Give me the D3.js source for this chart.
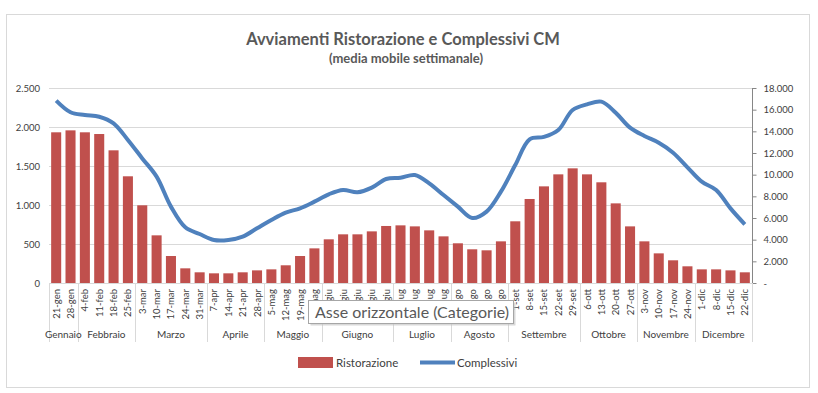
<!DOCTYPE html>
<html>
<head>
<meta charset="utf-8">
<script src="https://cdn.jsdelivr.net/npm/d3@7"></script>
<style>
  body { margin: 0; background: #fff; }
  text { font-family: Lato, "Open Sans", sans-serif; }
</style>
</head>
<body>
<div class="chart"></div>
<script>
// weekly categories and month groups
const weeks = ["21-gen","28-gen","4-feb","11-feb","18-feb","25-feb","3-mar","10-mar","17-mar","24-mar","31-mar",
  "7-apr","14-apr","21-apr","28-apr","5-mag","12-mag","19-mag","26-mag","2-giu","9-giu","16-giu","23-giu","30-giu",
  "7-lug","14-lug","21-lug","28-lug","4-ago","11-ago","18-ago","25-ago","1-set","8-set","15-set","22-set","29-set",
  "6-ott","13-ott","20-ott","27-ott","3-nov","10-nov","17-nov","24-nov","1-dic","8-dic","15-dic","22-dic"];

const months = ["Gennaio","Febbraio","Marzo","Aprile","Maggio","Giugno","Luglio","Agosto","Settembre","Ottobre","Novembre","Dicembre"];
const monthWeeks = [2,4,5,4,4,5,4,4,5,4,4,4];

const ristorazione = [1932,1957,1932,1910,1701,1368,996,611,346,188,137,124,124,137,162,175,227,346,444,560,624,624,662,731,
  739,726,675,598,509,432,419,534,791,1077,1239,1393,1470,1393,1291,1021,726,534,380,291,214,175,175,162,137];

const complessivi = [16830,15760,15510,15350,14740,13200,11500,9820,7050,5140,4520,3970,3970,4280,5050,5820,6490,6890,7510,8190,8590,8370,8800,9600,
  9720,9970,9200,8120,7050,6000,6590,8430,10890,13260,13480,14120,15970,16490,16740,15720,14340,13570,12950,12030,10680,9350,8590,6890,5420];

const leftTicks = [0,500,1000,1500,2000,2500];
const rightTicks = [0,2000,4000,6000,8000,10000,12000,14000,16000,18000];

const W = 818, H = 393;
const plot = {left: 49, right: 752, top: 88, bottom: 283};

const fmt = v => v === 0 ? "0" : d3.format(",")(v).replace(/,/g, ".");
const fmtR = v => v === 0 ? "-" : d3.format(",")(v).replace(/,/g, ".");

const svg = d3.select(".chart").append("svg")
  .attr("width", W)
  .attr("height", H);

// outer frame
svg.append("rect")
  .attr("x", 6.5).attr("y", 14.5)
  .attr("width", 803).attr("height", 373)
  .attr("fill", "#fff").attr("stroke", "#d9d9d9");

// title
svg.append("text")
  .attr("x", 403).attr("y", 45)
  .attr("text-anchor", "middle")
  .attr("font-size", 16.5).attr("font-weight", "bold").attr("fill", "#595959")
  .text("Avviamenti Ristorazione e Complessivi CM");
svg.append("text")
  .attr("x", 406).attr("y", 63)
  .attr("text-anchor", "middle")
  .attr("font-size", 13).attr("font-weight", "bold").attr("fill", "#595959")
  .text("(media mobile settimanale)");

// scales
const x = d3.scaleBand()
  .domain(weeks)
  .range([plot.left, plot.right])
  .paddingInner(0.3)
  .paddingOuter(0.15);

const y = d3.scaleLinear()
  .domain([0, 2500])
  .range([plot.bottom, plot.top]);

const y2 = d3.scaleLinear()
  .domain([0, 18000])
  .range([plot.bottom, plot.top]);

// gridlines
svg.append("g")
  .selectAll("line")
  .data(leftTicks.slice(1))
  .join("line")
    .attr("x1", plot.left).attr("x2", plot.right)
    .attr("y1", d => Math.round(y(d)) + 0.5).attr("y2", d => Math.round(y(d)) + 0.5)
    .attr("stroke", "#d9d9d9");

// left axis (labels only)
const yAxis = d3.axisLeft(y).tickValues(leftTicks).tickFormat(fmt).tickSize(0).tickPadding(9);
const gy = svg.append("g")
  .attr("transform", "translate(" + plot.left + ",0)")
  .call(yAxis);
gy.select(".domain").remove();
gy.selectAll("text").attr("font-size", 9.5).attr("fill", "#404040");

// right axis
const yAxis2 = d3.axisRight(y2).tickValues(rightTicks).tickFormat(fmtR).tickSize(4).tickPadding(7);
const gy2 = svg.append("g")
  .attr("transform", "translate(" + (plot.right + 0.5) + ",0)")
  .call(yAxis2);
gy2.select(".domain").attr("stroke", "#868686").attr("d", "M0," + plot.top + "V" + plot.bottom);
gy2.selectAll("line").attr("stroke", "#868686");
gy2.selectAll("text").attr("font-size", 9.5).attr("fill", "#404040");

// bars
svg.append("g")
  .selectAll("rect")
  .data(ristorazione)
  .join("rect")
    .attr("x", (d, i) => x(weeks[i]))
    .attr("y", d => y(d))
    .attr("width", x.bandwidth())
    .attr("height", d => y(0) - y(d))
    .attr("fill", "#c0504d");

// line
const line = d3.line()
  .x((d, i) => x(weeks[i]) + x.bandwidth() / 2)
  .y(d => y2(d))
  .curve(d3.curveCatmullRom.alpha(0.5));

svg.append("path")
  .datum(complessivi)
  .attr("d", line)
  .attr("fill", "none")
  .attr("stroke", "#4f81bd")
  .attr("stroke-width", 4)
  .attr("stroke-linejoin", "round");

// category axis line
svg.append("line")
  .attr("x1", plot.left).attr("x2", plot.right)
  .attr("y1", plot.bottom + 0.5).attr("y2", plot.bottom + 0.5)
  .attr("stroke", "#d9d9d9");

// week labels
svg.append("g")
  .selectAll("text")
  .data(weeks)
  .join("text")
    .attr("transform", d => "translate(" + (x(d) + x.bandwidth() / 2 + 3.5) + "," + (plot.bottom + 6) + ") rotate(-90)")
    .attr("text-anchor", "end")
    .attr("font-size", 9.5).attr("fill", "#404040")
    .text(d => d);

// month groups
const bounds = d3.cumsum([0].concat(monthWeeks));
const step = x.step();
const edge = i => plot.left + (i === 0 ? 0 : (i === weeks.length ? plot.right - plot.left : x(weeks[i]) - step * x.paddingInner() / 2 - plot.left));

svg.append("g")
  .selectAll("line")
  .data(bounds)
  .join("line")
    .attr("x1", d => Math.round(edge(d)) + 0.5).attr("x2", d => Math.round(edge(d)) + 0.5)
    .attr("y1", plot.bottom).attr("y2", 342)
    .attr("stroke", "#d9d9d9");

svg.append("g")
  .selectAll("text")
  .data(months)
  .join("text")
    .attr("x", (d, i) => (edge(bounds[i]) + edge(bounds[i + 1])) / 2)
    .attr("y", 338)
    .attr("text-anchor", "middle")
    .attr("font-size", 10).attr("fill", "#404040")
    .text(d => d);

// legend
const lg = svg.append("g");
lg.append("rect").attr("x", 298).attr("y", 357).attr("width", 35).attr("height", 11).attr("fill", "#c0504d");
lg.append("text").attr("x", 336).attr("y", 367).attr("font-size", 11.5).attr("fill", "#404040").text("Ristorazione");
lg.append("line").attr("x1", 420).attr("x2", 455).attr("y1", 362.5).attr("y2", 362.5)
  .attr("stroke", "#4f81bd").attr("stroke-width", 4);
lg.append("text").attr("x", 457).attr("y", 367).attr("font-size", 11.5).attr("fill", "#404040").text("Complessivi");

// tooltip shown over the category axis
const tip = svg.append("g");
tip.append("rect").attr("x", 310.5).attr("y", 302.5).attr("width", 205).attr("height", 23)
  .attr("fill", "#bfbfbf").attr("opacity", 0.6);
tip.append("rect").attr("x", 308.5).attr("y", 300.5).attr("width", 205).attr("height", 23)
  .attr("fill", "#fff").attr("stroke", "#a6a6a6");
tip.append("text").attr("x", 315).attr("y", 318).attr("font-size", 16).attr("fill", "#595959")
  .text("Asse orizzontale (Categorie)");
</script>
</body>
</html>
